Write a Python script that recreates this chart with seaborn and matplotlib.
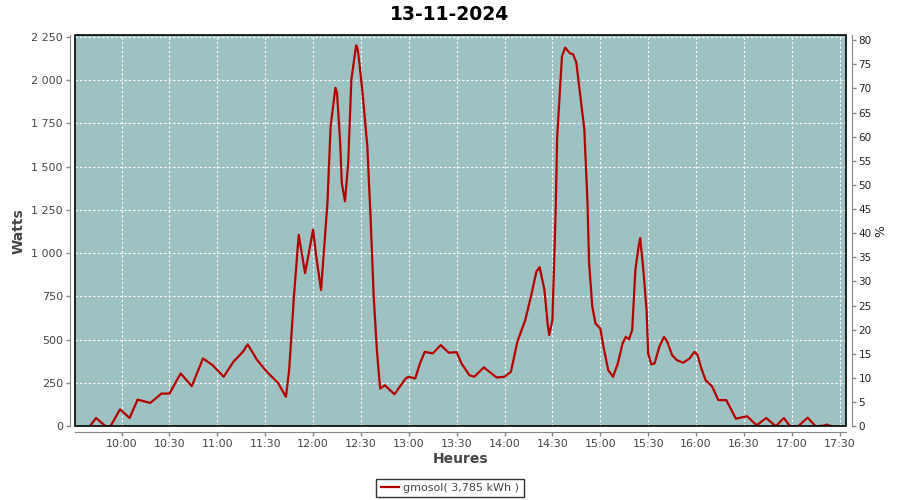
import pandas as pd
import seaborn as sns
import matplotlib
matplotlib.use('Agg')
import matplotlib.pyplot as plt
import matplotlib.dates as mdates
from matplotlib.ticker import FuncFormatter
from matplotlib.patches import Rectangle

day = '2024-11-13'
chart_title = '13-11-2024'
series_label = 'gmosol( 3,785 kWh )'

times = [
    '09:40', '09:44', '09:50', '09:53', '09:59', '10:05', '10:10', '10:18', '10:25', '10:30',
    '10:37', '10:44', '10:51', '10:57', '11:04', '11:10', '11:16', '11:19', '11:25', '11:31',
    '11:38', '11:43', '11:45', '11:48', '11:51', '11:55', '12:00', '12:02', '12:05', '12:07',
    '12:09', '12:11', '12:14', '12:15', '12:17', '12:18', '12:20', '12:22', '12:24', '12:27',
    '12:28', '12:29', '12:31', '12:34', '12:36', '12:38', '12:40', '12:42', '12:45', '12:51',
    '12:58', '13:00', '13:04', '13:07', '13:10', '13:15', '13:20', '13:25', '13:30', '13:33',
    '13:38', '13:41', '13:47', '13:55', '14:00', '14:04', '14:08', '14:13', '14:17', '14:20',
    '14:22', '14:25', '14:27', '14:28', '14:30', '14:32', '14:33', '14:35', '14:36', '14:38',
    '14:41', '14:43', '14:45', '14:47', '14:50', '14:52', '14:53', '14:55', '14:57', '15:00',
    '15:02', '15:05', '15:08', '15:11', '15:14', '15:16', '15:18', '15:20', '15:22', '15:24',
    '15:25', '15:27', '15:29', '15:30', '15:32', '15:34', '15:37', '15:40', '15:42', '15:45',
    '15:48', '15:52', '15:56', '15:59', '16:01', '16:03', '16:06', '16:10', '16:14', '16:19',
    '16:25', '16:32', '16:38', '16:44', '16:50', '16:55', '16:59', '17:04', '17:10', '17:15',
    '17:20', '17:22', '17:25',
]

watts = [
    0, 48, 0, 0, 98, 48, 154, 135, 189, 189,
    305, 232, 392, 353, 286, 372, 430, 473, 382, 315,
    251, 170, 324, 749, 1106, 884, 1135, 980, 787, 1038,
    1289, 1733, 1955, 1926, 1637, 1405, 1299, 1521, 2003, 2200,
    2177, 2100, 1926, 1617, 1212, 749, 440, 218, 237, 185,
    276, 286, 276, 363, 430, 421, 469, 425, 428, 363,
    295, 286, 340, 282, 286, 315, 488, 614, 768, 894,
    919, 787, 594, 527, 614, 1231, 1675, 1984, 2138, 2187,
    2154, 2148, 2100, 1945, 1714, 1289, 942, 691, 594, 565,
    459, 324, 286, 363, 479, 517, 502, 556, 903, 1038,
    1087, 903, 672, 421, 357, 363, 459, 517, 488, 411,
    382, 367, 392, 430, 411, 344, 266, 232, 151, 151,
    44, 58, 6, 48, 0, 48, 0, 0, 50, 0,
    4, 10, 0,
]

watt_ticks = list(range(0, 2251, 250))
pct_ticks = list(range(0, 81, 5))


def space_thousands(v, pos):
    return f'{int(v):,}'.replace(',', ' ')


def style_axis(ax):
    for side in ['left', 'right', 'top', 'bottom']:
        ax.spines[side].set_visible(False)
    ax.tick_params(colors='#888888', labelcolor='#444444', labelsize=8,
                   length=3, width=1, pad=2)


def main():
    df = pd.DataFrame({
        'time': pd.to_datetime([f'{day} {t}' for t in times]),
        'watts': watts,
    })

    fig = plt.figure(figsize=(9, 5), dpi=100)
    ax = fig.add_axes([0.0837, 0.1474, 0.8563, 0.782])
    ax.set_facecolor('#9ec2c2')

    sns.lineplot(data=df, x='time', y='watts', ax=ax, color='#b40000',
                 linewidth=1.6, label=series_label, legend=False)

    ax.set_xlim(pd.Timestamp(f'{day} 09:31'), pd.Timestamp(f'{day} 17:34'))
    ax.set_ylim(0, 2258)
    ax.set_yticks(watt_ticks)
    ax.yaxis.set_major_formatter(FuncFormatter(space_thousands))
    ax.xaxis.set_major_locator(mdates.MinuteLocator(byminute=[0, 30]))
    ax.xaxis.set_major_formatter(mdates.DateFormatter('%H:%M'))
    ax.grid(True, color='white', linestyle=(0, (2, 2)), linewidth=0.8)
    ax.set_axisbelow(True)

    style_axis(ax)
    for side in ['left', 'bottom']:
        ax.spines[side].set_visible(True)
        ax.spines[side].set_position(('outward', 4))
        ax.spines[side].set_color('#888888')
    ax.add_patch(Rectangle((0, 0), 1, 1, transform=ax.transAxes, fill=False,
                           edgecolor='black', linewidth=1.2, clip_on=False, zorder=5))

    ax.set_xlabel('Heures', fontsize=10, fontweight='bold', color='#444444', labelpad=2)
    ax.set_ylabel('Watts', fontsize=10, fontweight='bold', color='#444444', labelpad=4)

    ax2 = ax.twinx()
    ax2.set_ylim(0, 81)
    ax2.set_yticks(pct_ticks)
    style_axis(ax2)
    ax2.spines['right'].set_visible(True)
    ax2.spines['right'].set_position(('outward', 4))
    ax2.spines['right'].set_color('#888888')
    ax2.tick_params(labelsize=7.5, labelcolor='#222222')
    ax2.set_ylabel('%', fontsize=9, color='#222222', labelpad=2)

    fig.suptitle(chart_title, fontsize=13.5, fontweight='bold', y=0.99)

    handles, labels = ax.get_legend_handles_labels()
    leg = fig.legend(handles, labels, loc='center', bbox_to_anchor=(0.5, 0.024),
                     fontsize=8, frameon=True, fancybox=False, handlelength=1.6,
                     borderpad=0.4, handletextpad=0.4, borderaxespad=0)
    leg.get_frame().set_edgecolor('black')
    leg.get_frame().set_linewidth(1.0)
    for t in leg.get_texts():
        t.set_color('#444444')

    fig.savefig('out.png', dpi=100)


if __name__ == '__main__':
    main()
